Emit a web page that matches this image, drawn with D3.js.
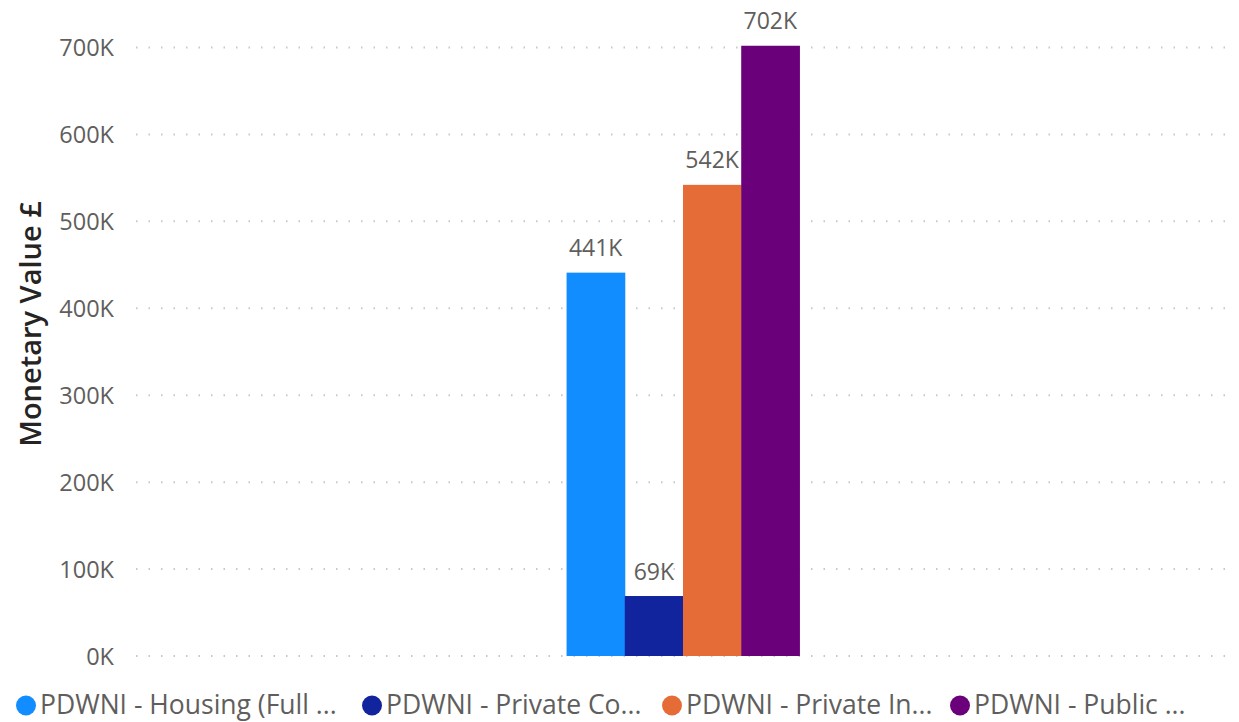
<!DOCTYPE html>
<html>
<head>
<meta charset="utf-8" />
<title>Monetary Value</title>
<script src="https://cdnjs.cloudflare.com/ajax/libs/d3/7.8.5/d3.min.js"></script>
<style>
  body { margin: 0; background: #ffffff; }
  text { font-family: "Segoe UI", "Open Sans", sans-serif; }
</style>
</head>
<body>
<svg id="viz"></svg>
<script>
// data
var categories = [""];
var seriesNames = ["PDWNI - Housing (Full ...", "PDWNI - Private Co...", "PDWNI - Private In...", "PDWNI - Public ..."];
var seriesValues = [441000, 69000, 542000, 702000];
var seriesLabels = ["441K", "69K", "542K", "702K"];
var seriesColors = ["#118DFF", "#12239E", "#E66C37", "#6B007B"];
var yTicks = [0, 100000, 200000, 300000, 400000, 500000, 600000, 700000];

var width = 1239, height = 722;

var svg = d3.select("#viz")
  .attr("width", width)
  .attr("height", height);

var plotLeft = 136, plotRight = 1236;

var yScale = d3.scaleLinear()
  .domain([0, 700000])
  .range([656, 47.5]);

var x0 = d3.scaleBand()
  .domain(categories)
  .range([plotLeft, 1230])
  .padding(0.649);

var x1 = d3.scaleBand()
  .domain(d3.range(seriesValues.length))
  .range([0, x0.bandwidth()]);

// gridlines (dotted)
svg.append("g")
  .selectAll("line")
  .data(yTicks)
  .enter().append("line")
    .attr("x1", plotLeft)
    .attr("x2", plotRight)
    .attr("y1", function(d) { return yScale(d); })
    .attr("y2", function(d) { return yScale(d); })
    .attr("stroke", "#c8c8c8")
    .attr("stroke-width", 2)
    .attr("stroke-dasharray", "1.5,11");

// y axis
var yAxis = d3.axisLeft(yScale)
  .tickValues(yTicks)
  .tickSize(0)
  .tickPadding(0)
  .tickFormat(function(d) { return (d / 1000) + "K"; });

var gy = svg.append("g")
  .attr("transform", "translate(114,0)")
  .call(yAxis);
gy.select(".domain").remove();
gy.selectAll("text")
  .attr("fill", "#605E5C")
  .style("font-size", "23.5px")
  .attr("dy", "0.36em");

// axis title
svg.append("text")
  .attr("transform", "translate(41,324) rotate(-90)")
  .attr("text-anchor", "middle")
  .attr("fill", "#252423")
  .style("font-size", "29px")
  .style("font-weight", "600")
  .text("Monetary Value £");

// bars
var group = svg.append("g")
  .attr("transform", "translate(" + x0(categories[0]) + ",0)");

group.selectAll("rect")
  .data(seriesValues)
  .enter().append("rect")
    .attr("x", function(d, i) { return x1(i); })
    .attr("width", x1.bandwidth() + 0.5)
    .attr("y", function(d) { return yScale(d); })
    .attr("height", function(d) { return yScale(0) - yScale(d); })
    .attr("fill", function(d, i) { return seriesColors[i]; });

group.selectAll("text.lbl")
  .data(seriesValues)
  .enter().append("text")
    .attr("class", "lbl")
    .attr("x", function(d, i) { return x1(i) + x1.bandwidth() / 2; })
    .attr("y", function(d) { return yScale(d) - 16.5; })
    .attr("text-anchor", "middle")
    .attr("fill", "#605E5C")
    .style("font-size", "23px")
    .text(function(d, i) { return seriesLabels[i]; });

// legend
var legendX = [26, 372, 672, 960];
var legend = svg.append("g")
  .selectAll("g")
  .data(seriesNames)
  .enter().append("g")
    .attr("transform", function(d, i) { return "translate(" + legendX[i] + ",705.5)"; });

legend.append("circle")
  .attr("r", 10)
  .attr("fill", function(d, i) { return seriesColors[i]; });

legend.append("text")
  .attr("x", 14)
  .attr("dy", "0.33em")
  .attr("fill", "#605E5C")
  .style("font-size", "26.5px")
  .text(function(d) { return d; });
</script>
</body>
</html>
